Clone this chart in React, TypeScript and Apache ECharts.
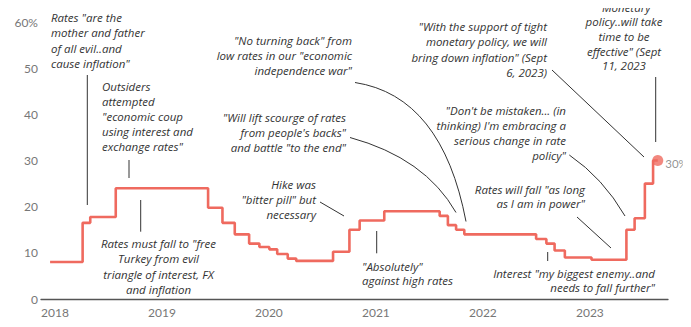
import React, { useEffect, useRef } from "react";
import * as echarts from "echarts";

// Turkish central bank policy rate: date each new rate took effect, and the rate (%)
const rateDates = [
  "2018-02-01", "2018-05-23", "2018-06-18", "2018-09-13",
  "2019-07-25", "2019-09-12", "2019-10-24", "2019-12-12",
  "2020-01-16", "2020-02-19", "2020-03-17", "2020-04-22", "2020-05-21",
  "2020-09-24", "2020-11-19", "2020-12-24",
  "2021-03-18", "2021-09-23", "2021-10-21", "2021-11-18", "2021-12-16",
  "2022-08-18", "2022-09-22", "2022-10-20", "2022-11-24",
  "2023-02-23", "2023-06-22", "2023-07-20", "2023-08-24", "2023-09-21",
  "2023-10-07",
];
const rateValues = [
  8, 16.5, 17.75, 24,
  19.75, 16.5, 14, 12,
  11.25, 10.75, 9.75, 8.75, 8.25,
  10.25, 15, 17,
  19, 18, 16, 15, 14,
  13, 12, 10.5, 9,
  8.5, 15, 17.5, 25, 30,
  30,
];

const yearTicks = [2018, 2019, 2020, 2021, 2022, 2023];
const rateTicks = [0, 10, 20, 30, 40, 50, 60];

// Erdogan quotes placed around the line
const quotes = [
  {
    lines: ['Rates "are the', "mother and father", "of all evil..and", 'cause inflation"'],
    x: 51, y: 10, align: "left", lh: 15.2,
  },
  {
    lines: ["Outsiders", "attempted", '"economic coup', "using interest and", 'exchange rates"'],
    x: 102, y: 78.5, align: "left", lh: 15.2,
  },
  {
    lines: ['Rates must fall to "free', "Turkey from evil", "triangle of interest, FX", "and inflation"],
    x: 158.5, y: 236, align: "center", lh: 15.3,
  },
  {
    lines: ['"No turning back" from', 'low rates in our "economic', 'independence war"'],
    x: 352, y: 32.5, align: "right", lh: 15.3,
  },
  {
    lines: ['"Will lift scourge of rates', "from people's backs\"", 'and battle "to the end"'],
    x: 346, y: 110, align: "right", lh: 14.9,
  },
  {
    lines: ["Hike was", '"bitter pill" but', "necessary"],
    x: 316, y: 176.5, align: "right", lh: 15,
  },
  {
    lines: ['"Absolutely"', "against high rates"],
    x: 362, y: 259.5, align: "left", lh: 13.8,
  },
  {
    lines: ['"With the support of tight', "monetary policy, we will", 'bring down inflation" (Sept', "6, 2023)"],
    x: 547, y: 19, align: "right", lh: 15.3,
  },
  {
    lines: ['"Monetary', "policy..will take", "time to be", 'effective" (Sept', "11, 2023"],
    x: 624, y: 0, align: "center", lh: 14.6,
  },
  {
    lines: ['"Don\'t be mistaken... (in', "thinking) I'm embracing a", "serious change in rate", 'policy"'],
    x: 566, y: 102.5, align: "right", lh: 15.2,
  },
  {
    lines: ['Rates will fall "as long', 'as I am in power"'],
    x: 585, y: 182.3, align: "right", lh: 14,
  },
  {
    lines: ['Interest "my biggest enemy..and', 'needs to fall further"'],
    x: 655, y: 266.3, align: "right", lh: 14,
  },
];

const LINE_COLOR = "#ef6a5f";
const TEXT_COLOR = "#333333";
const AXIS_TEXT = "#777777";
const LEADER = "#333333";

function toDecimalYear(d: string): number {
  const [y, m, day] = d.split("-").map(Number);
  const start = Date.UTC(y, 0, 1);
  const end = Date.UTC(y + 1, 0, 1);
  return y + (Date.UTC(y, m - 1, day) - start) / (end - start);
}

export default function App() {
  const ref = useRef<HTMLDivElement>(null);

  useEffect(() => {
    if (!ref.current) return;
    const chart = echarts.init(ref.current, null, { renderer: "svg" });

    const points = rateDates.map((d, i) => [toDecimalYear(d), rateValues[i]]);
    const last = points[points.length - 1];

    const textEls = quotes.map((q) => ({
      type: "text",
      x: q.x,
      y: q.y,
      style: {
        text: q.lines.join("\n"),
        fontFamily: "Open Sans",
        fontStyle: "italic",
        fontSize: 11.5,
        fill: TEXT_COLOR,
        align: q.align,
        verticalAlign: "top",
        lineHeight: q.lh,
      },
      silent: true,
    }));

    const leaderStyle = { stroke: LEADER, lineWidth: 1, fill: "none" };
    const straight = (x1: number, y1: number, x2: number, y2: number) => ({
      type: "line",
      shape: { x1, y1, x2, y2 },
      style: leaderStyle,
      silent: true,
    });
    const curve = (x1: number, y1: number, cpx1: number, cpy1: number, x2: number, y2: number) => ({
      type: "bezierCurve",
      shape: { x1, y1, cpx1, cpy1, x2, y2 },
      style: leaderStyle,
      silent: true,
    });

    const leaders = [
      straight(87.3, 75, 87.3, 205),
      straight(129, 160, 129, 178),
      straight(140.7, 200, 140.7, 231.7),
      curve(355, 82.5, 442, 96, 466, 221.5),
      curve(350, 137.5, 425, 158, 456, 212.5),
      straight(320, 202, 344, 216),
      straight(376.7, 231, 376.7, 253.3),
      straight(552, 70, 644, 157),
      straight(655.7, 77, 655.7, 142),
      curve(569.3, 155, 603, 178, 625, 216),
      straight(577, 217, 611, 248),
      straight(547.7, 252, 547.7, 261),
    ];

    chart.setOption({
      animation: false,
      grid: { left: 41, right: 23, top: 22, bottom: 28, containLabel: false },
      xAxis: {
        type: "value",
        min: yearTicks[0],
        max: 2023.86,
        interval: 1,
        splitLine: { show: false },
        axisTick: { show: false },
        axisLine: { show: true, lineStyle: { color: "#555555", width: 1.3 } },
        axisLabel: {
          color: AXIS_TEXT,
          fontFamily: "Lato",
          fontSize: 12,
          align: "left",
          margin: 7,
          showMaxLabel: false,
          formatter: (v: number) => (yearTicks.includes(v) ? String(v) : ""),
        },
      },
      yAxis: {
        type: "value",
        min: rateTicks[0],
        max: rateTicks[rateTicks.length - 1],
        interval: 10,
        splitLine: { show: false },
        axisLine: { show: false },
        axisTick: { show: false },
        axisLabel: {
          color: AXIS_TEXT,
          fontFamily: "Lato",
          fontSize: 12,
          margin: 3,
          formatter: (v: number) => (v === rateTicks[rateTicks.length - 1] ? `${v}%` : String(v)),
        },
      },
      series: [
        {
          type: "line",
          step: "end",
          data: points,
          showSymbol: false,
          lineStyle: { color: LINE_COLOR, width: 2.6 },
          z: 3,
        },
        {
          type: "scatter",
          data: [last],
          clip: false,
          symbol: "circle",
          symbolSize: 11,
          itemStyle: { color: LINE_COLOR },
          label: {
            show: true,
            position: "right",
            distance: 2,
            offset: [0, 3],
            color: AXIS_TEXT,
            fontFamily: "Lato",
            fontSize: 11.5,
            formatter: (p: any) => `${p.value[1]}%`,
          },
          z: 4,
        },
      ],
      graphic: [...leaders, ...textEls],
    });

    return () => chart.dispose();
  }, []);

  return <div ref={ref} style={{ width: 691, height: 327, margin: -8 }} />;
}
